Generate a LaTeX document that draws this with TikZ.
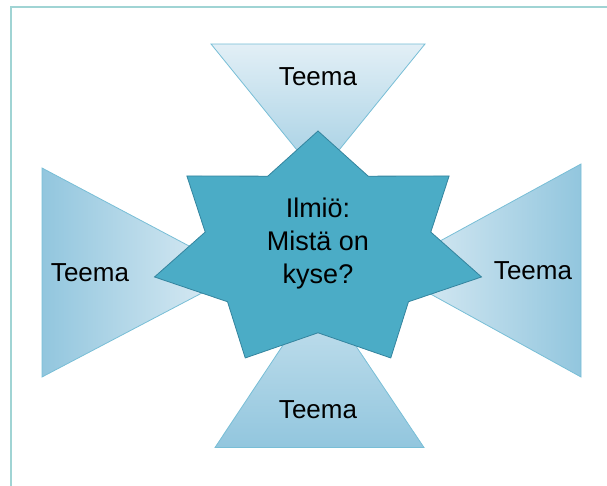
\documentclass[tikz,border=0pt]{standalone}
\usepackage{fontspec}
\setmainfont{Liberation Sans}
\definecolor{frameteal}{RGB}{160,212,212}
\definecolor{wedgeedge}{RGB}{120,190,214}
\definecolor{wedgelight}{RGB}{226,239,246}
\definecolor{wedgemid}{RGB}{200,226,238}
\definecolor{wedgedark}{RGB}{146,198,222}
\definecolor{starfill}{RGB}{75,172,198}
\definecolor{staredge}{RGB}{52,132,158}
\begin{document}
\begin{tikzpicture}[x=1pt,y=-1pt,
  frameline/.style={draw=frameteal,line width=2pt},
  wedge/.style={draw=wedgeedge,line width=0.8pt,line join=miter},
  starshape/.style={fill=starfill,draw=staredge,line width=0.8pt,line join=miter},
  themelabel/.style={font=\fontsize{26}{30}\selectfont,text=black,inner sep=0pt},
  corelabel/.style={font=\fontsize{27}{33}\selectfont,text=black,inner sep=0pt,align=center}]
  \useasboundingbox (0,0) rectangle (607,486);

  % slide frame: top and left edges
  \draw[frameline] (11,486) -- (11,7) -- (607,7);

  % four theme wedges pointing at the centre
  \path[wedge,top color=wedgelight,bottom color=wedgedark!80!wedgelight]
    (211,44) -- (425,44) -- (318,176) -- cycle;
  \path[wedge,top color=wedgemid,bottom color=wedgedark]
    (319,291) -- (424,447.5) -- (215,447.5) -- cycle;
  \path[wedge,left color=wedgedark,right color=wedgelight]
    (42,168) -- (240,273) -- (42,377) -- cycle;
  \path[wedge,left color=wedgelight,right color=wedgedark]
    (581,164) -- (387,270) -- (581,377) -- cycle;

  % seven-pointed star in the middle, stretched horizontally
  \path[starshape] plot[samples at={0,...,13}]
    ({318+167.7*(1-0.31*mod(\x,2))*cos(90+\x*360/14)},
     {250.4-119.4*(1-0.31*mod(\x,2))*sin(90+\x*360/14)}) -- cycle;

  \node[corelabel] (core) at (318,244) {Ilmiö:\\Mistä on\\kyse?};

  \node[themelabel] (themeTop) at (318,77) {Teema};
  \node[themelabel] (themeLeft) at (90,273) {Teema};
  \node[themelabel] (themeRight) at (533,271) {Teema};
  \node[themelabel] (themeBottom) at (318,410) {Teema};
\end{tikzpicture}
\end{document}
